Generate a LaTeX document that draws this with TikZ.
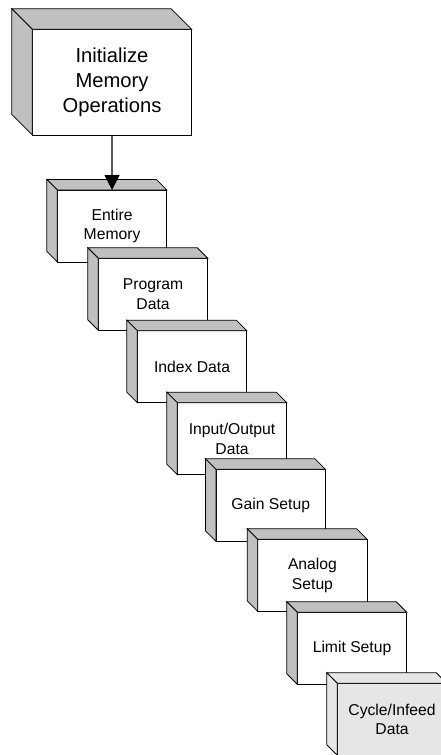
\documentclass[tikz,border=0pt]{standalone}
\usepackage{fontspec}
\setmainfont{Liberation Sans}
\usetikzlibrary{arrows.meta}
\tikzset{
  edge/.style={draw=black, line width=0.75pt},
  frontS/.style={edge, fill=white, anchor=north west, inner sep=0pt, outer sep=0pt,
    minimum width=109.5pt, minimum height=72pt, align=center,
    font=\fontsize{15.7}{19.5}\selectfont},
  frontL/.style={frontS, minimum width=159.4pt, minimum height=105.7pt,
    font=\fontsize{20.2}{25}\selectfont},
  lastbox/.style={fill=lastgray},
  sideface/.style={edge, fill=facegray},
  flow/.style={draw=black, line width=1.1pt, -{Triangle[width=15pt,length=15pt]}}
}
\definecolor{facegray}{HTML}{C0C0C0}
\definecolor{lastgray}{HTML}{E6E6E6}
\newcommand\drawfaces[3]{%
  \filldraw[sideface, fill=#3] (#1.north west) -- ([shift={(-#2,-#2)}]#1.north west)
     -- ([shift={(-#2,-#2)}]#1.north east) -- (#1.north east) -- cycle;
  \filldraw[sideface, fill=#3] (#1.north west) -- ([shift={(-#2,-#2)}]#1.north west)
     -- ([shift={(-#2,-#2)}]#1.south west) -- (#1.south west) -- cycle;
}
\begin{document}
\begin{tikzpicture}[x=1pt,y=-1pt]
\useasboundingbox (0,0) rectangle (441,755);
\clip (0,0) rectangle (441,755);
\node[frontL] (init) at (32.3,29.3) {Initialize\\Memory\\Operations};
\drawfaces{init}{20.5}{facegray}
\node[frontS] (b1) at (57.3,190) {Entire\\Memory};
\drawfaces{b1}{10.5}{facegray}
\node[frontS] (b2) at (98.3,258.3) {Program\\Data};
\drawfaces{b2}{10.5}{facegray}
\node[frontS] (b3) at (137.3,330.7) {Index Data};
\drawfaces{b3}{10.5}{facegray}
\node[frontS] (b4) at (177.3,402.7) {Input/Output\\Data};
\drawfaces{b4}{10.5}{facegray}
\node[frontS] (b5) at (216,469.3) {Gain Setup};
\drawfaces{b5}{10.5}{facegray}
\node[frontS] (b6) at (257.7,539.3) {Analog\\Setup};
\drawfaces{b6}{10.5}{facegray}
\node[frontS] (b7) at (297.3,612.3) {Limit Setup};
\drawfaces{b7}{10.5}{facegray}
\node[frontS, lastbox] (b8) at (337.3,683.3) {Cycle/Infeed\\Data};
\drawfaces{b8}{10.5}{lastgray}
\draw[flow] (init.south) -- (b1.north);
\end{tikzpicture}
\end{document}
